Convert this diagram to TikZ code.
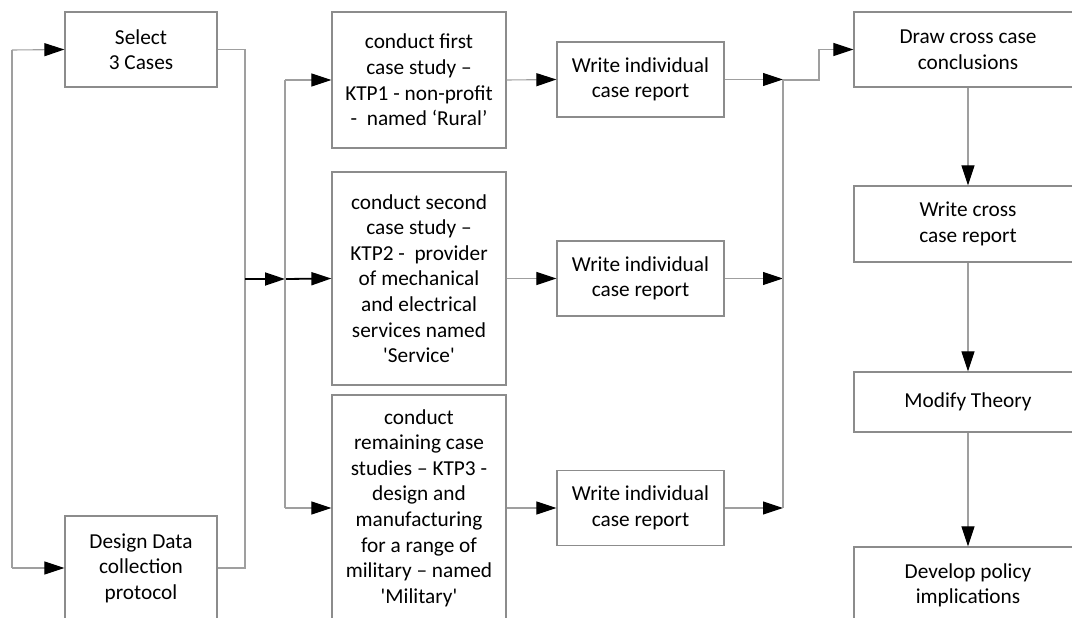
\documentclass[tikz,border=0pt]{standalone}
\usepackage{fontspec}
\setmainfont{Carlito}
\usepackage{tikz}
\usetikzlibrary{positioning}
\usetikzlibrary{arrows.meta}

\begin{document}
\begin{tikzpicture}[x=1pt, y=-1pt,
    box/.style={draw=gray!90, line width=1.2pt, align=center, inner sep=0pt,
        font=\fontsize{21.3}{25.6}\selectfont},
    link/.style={draw=gray!75, line width=1.1pt},
    arr/.style={link, -{Triangle[length=20pt,width=13pt,fill=black,color=black]}},
    feed/.style={draw=black, line width=1.8pt, -{Triangle[length=20pt,width=13pt]}}]
    \clip (0,0) rectangle (1072,618);
    % left column
    \node[box, minimum width=152pt, minimum height=75pt] (select) at (141,49.5) {Select\\3 Cases};
    \node[box, minimum width=152pt, minimum height=104pt] (design) at (141,568) {Design Data\\collection\\protocol};
    % case studies
    \node[box, minimum width=174pt, minimum height=136pt] (case1) at (419,80) {conduct first\\case study --\\KTP1 - non-profit\\-\ \ named `Rural'};
    \node[box, minimum width=174pt, minimum height=213pt] (case2) at (419,278.5) {conduct second\\case study --\\KTP2 -\ \ provider\\of mechanical\\and electrical\\services named\\\textquotesingle Service\textquotesingle};
    \node[box, minimum width=174pt, minimum height=226pt] (case3) at (419,508) {conduct\\remaining case\\studies -- KTP3 -\\design and\\manufacturing\\for a range of\\military -- named\\\textquotesingle Military\textquotesingle};
    % individual reports
    \node[box, minimum width=167pt, minimum height=75pt] (report1) at (640.5,79.5) {Write individual\\case report};
    \node[box, minimum width=167pt, minimum height=75pt] (report2) at (640.5,278.5) {Write individual\\case report};
    \node[box, minimum width=167pt, minimum height=75pt] (report3) at (640.5,508) {Write individual\\case report};
    % cross case column
    \node[box, minimum width=228pt, minimum height=75pt] (draw) at (968,49.5) {Draw cross case\\conclusions};
    \node[box, minimum width=228pt, minimum height=76pt] (cross) at (968,224) {Write cross\\case report};
    \node[box, minimum width=228pt, minimum height=60pt] (theory) at (968,402) {Modify Theory};
    \node[box, minimum width=228pt, minimum height=77pt] (policy) at (968,585.5) {Develop policy\\implications};

    \coordinate (loop) at (12,50);
    \coordinate (merge) at (245,279);
    \coordinate (split) at (285,279);
    \coordinate (collect) at (783,80);
    \coordinate (step) at (819,80);

    % feedback loop between select and design
    \draw[link] (loop) -- (loop |- design.west);
    \draw[arr] (loop) -- (select.west);
    \draw[arr] (loop |- design.west) -- (design.west);
    \draw[link] (select.east) -| (merge |- select.east) -- (merge |- design.east) -- (design.east);
    \draw[feed] (merge) -- (split);
    \draw[feed] (split) -- (case2.west);
    \draw[link] (split |- case1.west) -- (split |- case3.west);
    \draw[arr] (split |- case1.west) -- (case1.west);
    \draw[arr] (split |- case3.west) -- (case3.west);
    % case studies to reports
    \foreach \i in {1,2,3} {
        \draw[arr] (case\i.east) -- (report\i.west);
        \draw[arr] (report\i.east) -- (collect |- report\i.east);
    }
    \draw[link] (collect) -- (collect |- report3.east);
    \draw[arr] (collect) -- (step) |- (draw.west);
    \draw[arr] (draw) -- (cross);
    \draw[arr] (cross) -- (theory);
    \draw[arr] (theory) -- (policy);
\end{tikzpicture}
\end{document}
